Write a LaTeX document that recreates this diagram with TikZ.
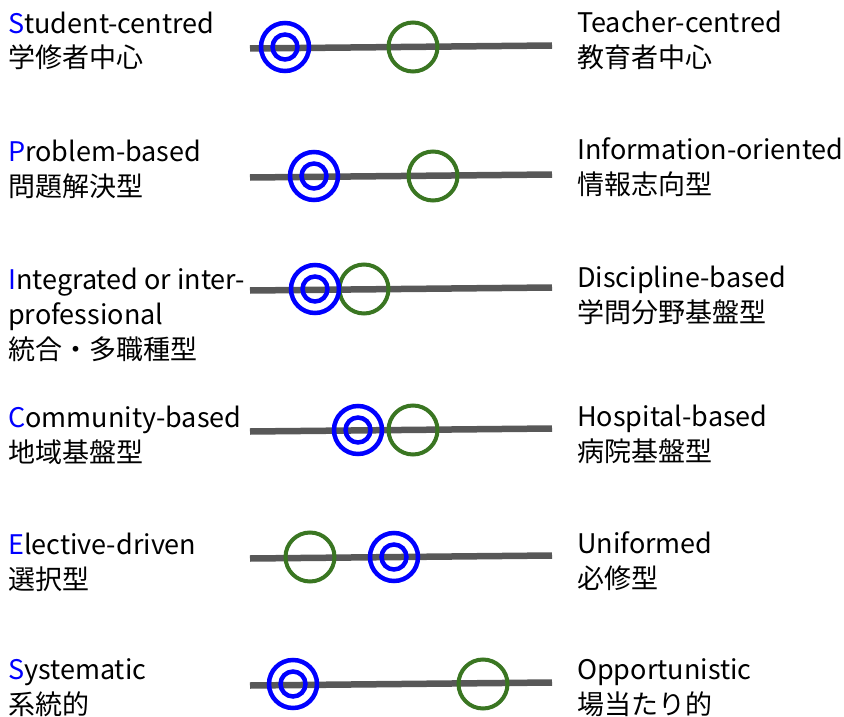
\documentclass[tikz,border=0pt]{standalone}
\usepackage{fontspec}
\setmainfont{Noto Sans CJK JP}
\usetikzlibrary{positioning}
\definecolor{myblue}{RGB}{0,0,255}
\definecolor{mygreen}{RGB}{58,118,34}
\definecolor{mygray}{RGB}{88,88,88}
\newcommand{\firstl}[1]{\textcolor{myblue}{#1}}

\begin{document}
\begin{tikzpicture}[x=1pt,y=-1pt,
  axis/.style={draw=mygray,line width=6.5pt},
  bnode/.style={draw=myblue,circle,line width=4.5pt,minimum size=48pt,inner sep=0pt},
  binner/.style={draw=myblue,circle,line width=4.5pt,minimum size=25pt,inner sep=0pt},
  gnode/.style={draw=mygreen,circle,line width=4pt,minimum size=49pt,inner sep=0pt},
  lbl/.style={anchor=base west,align=left,inner sep=0pt,
    font=\fontsize{27}{35}\selectfont}]
  \useasboundingbox (0,0) rectangle (844,717);

  % the six scales
  \foreach \n/\y/\b/\g in {1/47/285/413,2/176/314/433,3/289/315/364,
    4/430/358/413,5/557/394/310,6/684/293/483}{
    \coordinate (l\n) at (250,\y+1.5);
    \coordinate (r\n) at (552,\y-1.5);
    \draw[axis] (l\n) -- (r\n);
    \node[gnode] (g\n) at (\g,\y) {};
    \node[bnode] (b\n) at (\b,\y) {};
    \node[binner] (bi\n) at (b\n) {};
  }

  % left side (position = baseline of the last line)
  \node[lbl] (s1) at (8,68) {\firstl{S}tudent-centred\\学修者中心};
  \node[lbl] (p1) at (8,196) {\firstl{P}roblem-based\\問題解決型};
  \node[lbl] (i1) at (8,359) {\firstl{I}ntegrated or inter-\\professional\\統合・多職種型};
  \node[lbl] (c1) at (8,462) {\firstl{C}ommunity-based\\地域基盤型};
  \node[lbl] (e1) at (8,589) {\firstl{E}lective-driven\\選択型};
  \node[lbl] (s2) at (8,714) {\firstl{S}ystematic\\系統的};

  % right side
  \node[lbl] (t1) at (577,67) {Teacher-centred\\教育者中心};
  \node[lbl] (f1) at (577,194) {Information-oriented\\情報志向型};
  \node[lbl] (d1) at (577,322) {Discipline-based\\学問分野基盤型};
  \node[lbl] (h1) at (577,461) {Hospital-based\\病院基盤型};
  \node[lbl] (u1) at (577,588) {Uniformed\\必修型};
  \node[lbl] (o1) at (577,714) {Opportunistic\\場当たり的};
\end{tikzpicture}
\end{document}
